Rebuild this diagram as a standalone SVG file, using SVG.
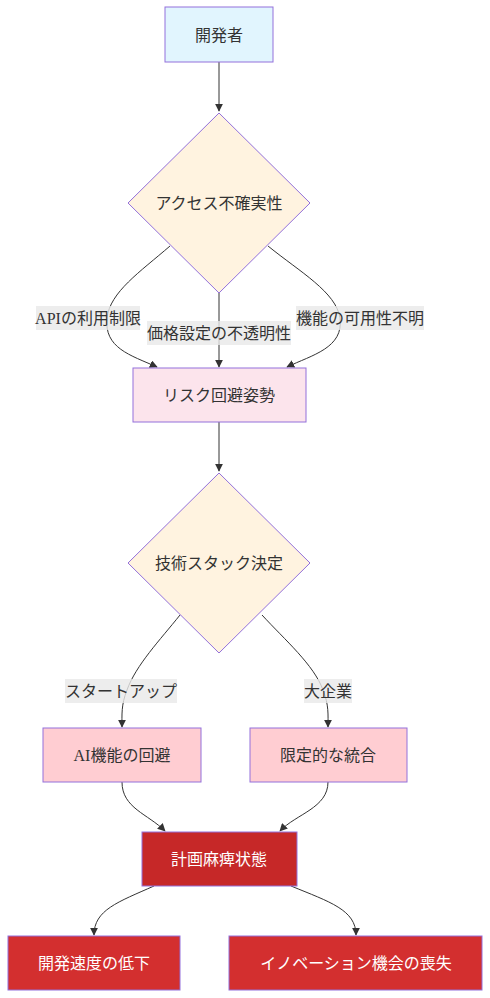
<svg xmlns="http://www.w3.org/2000/svg" width="490" height="998" viewBox="0 0 490 998">
<defs>
<marker id="arr" viewBox="0 0 10 10" refX="9" refY="5" markerWidth="8" markerHeight="8" markerUnits="userSpaceOnUse" orient="auto">
<path d="M0,0 L10,5 L0,10 z" fill="#333"/>
</marker>
</defs>
<style>
text{font-family:"Liberation Serif","Noto Sans CJK JP",serif;font-size:16px;fill:#333;text-anchor:middle;dominant-baseline:central}
.n{stroke:#9370DB;stroke-width:1}
.dev{fill:#e1f5fe}
.dec{fill:#fff3e0}
.risk{fill:#fce4ec}
.mid{fill:#ffcdd2}
.dark{fill:#c62828}
.red{fill:#d32f2f}
.w{fill:#fff}
.e{fill:none;stroke:#333;stroke-width:1;marker-end:url(#arr)}
.lb{fill:#e8e8e8;opacity:0.8}
</style>
<rect width="490" height="998" fill="#fff"/>
<g id="connectors">
<path class="e" d="M219,62 L219,111"/>
<path class="e" d="M170,246 C140,272 110,292 107,318 C104,348 130,355 157,367"/>
<path class="e" d="M219,293 L219,367"/>
<path class="e" d="M268,246 C300,272 336,292 340,318 C344,348 312,355 287,367"/>
<path class="e" d="M219,422 L219,471"/>
<path class="e" d="M180,615 C160,640 136,665 127,690 C121,705 122,715 122,727"/>
<path class="e" d="M262,615 C285,640 314,665 323,690 C329,705 328,715 328,727"/>
<path class="e" d="M122,782 C122,808 148,814 165,831"/>
<path class="e" d="M328,782 C328,808 296,814 280,831"/>
<path class="e" d="M154,886 C118,902 94,910 94,935"/>
<path class="e" d="M291,886 C330,902 356,910 356,935"/>
</g>
<g id="edge-labels">
<rect class="lb" x="36" y="306" width="104" height="24"/>
<text x="88" y="318">APIの利用制限</text>
<rect class="lb" x="147" y="321" width="144" height="24"/>
<text x="219" y="333">価格設定の不透明性</text>
<rect class="lb" x="296" y="306" width="128" height="24"/>
<text x="360" y="318">機能の可用性不明</text>
<rect class="lb" x="65" y="679" width="112" height="24"/>
<text x="121" y="691">スタートアップ</text>
<rect class="lb" x="304" y="679" width="48" height="24"/>
<text x="328" y="691">大企業</text>
</g>
<g id="dev">
<rect class="n dev" x="165" y="7" width="108" height="55"/>
<text x="219" y="35">開発者</text>
</g>
<g id="access">
<polygon class="n dec" points="219,113 310,203 219,293 128,203"/>
<text x="219" y="203">アクセス不確実性</text>
</g>
<g id="risk">
<rect class="n risk" x="133" y="368" width="173" height="54"/>
<text x="219" y="395">リスク回避姿勢</text>
</g>
<g id="stack">
<polygon class="n dec" points="219,473 310,563 219,653 128,563"/>
<text x="219" y="563">技術スタック決定</text>
</g>
<g id="avoid">
<rect class="n mid" x="43" y="728" width="158" height="54"/>
<text x="122" y="755">AI機能の回避</text>
</g>
<g id="limited">
<rect class="n mid" x="250" y="728" width="157" height="54"/>
<text x="328" y="755">限定的な統合</text>
</g>
<g id="paralysis">
<rect class="n dark" x="142" y="832" width="155" height="54"/>
<text class="w" x="219" y="859">計画麻痺状態</text>
</g>
<g id="slow">
<rect class="n red" x="8" y="936" width="172" height="54"/>
<text class="w" x="94" y="963">開発速度の低下</text>
</g>
<g id="loss">
<rect class="n red" x="229" y="936" width="253" height="54"/>
<text class="w" x="356" y="963">イノベーション機会の喪失</text>
</g>
</svg>
